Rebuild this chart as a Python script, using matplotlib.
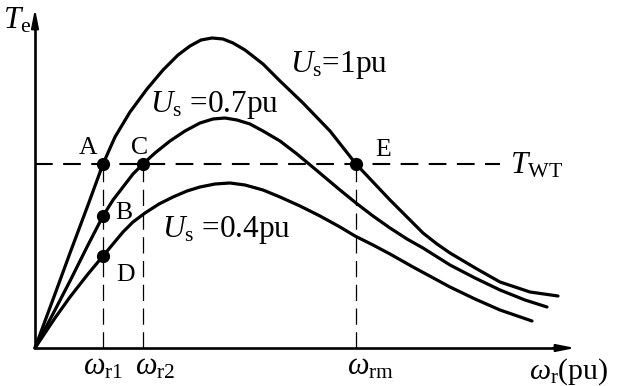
import matplotlib
matplotlib.use('Agg')
import matplotlib.pyplot as plt

plt.rcParams['font.family'] = 'Liberation Serif'
plt.rcParams['mathtext.fontset'] = 'custom'
plt.rcParams['mathtext.rm'] = 'Liberation Serif'
plt.rcParams['mathtext.it'] = 'Liberation Serif:italic'

# Kurva torsi (Te) terhadap kecepatan (wr)
w_1pu = [0, 0.20, 0.35, 0.53, 0.68, 0.80, 0.95, 1.12, 1.28, 1.43, 1.55, 1.66, 1.77, 1.88,
         1.98, 2.10, 2.28, 2.45, 2.68, 2.95, 3.21, 3.38, 3.55, 3.72, 3.88, 4.02, 4.15, 4.42,
         4.65, 4.95, 5.23]
te_1pu = [0, 0.54, 0.95, 1.43, 1.84, 2.11, 2.36, 2.59, 2.78, 2.93, 3.02, 3.08, 3.10, 3.09,
          3.05, 2.98, 2.84, 2.67, 2.45, 2.17, 1.84, 1.66, 1.48, 1.31, 1.15, 1.04, 0.95, 0.79,
          0.66, 0.56, 0.52]

w_07pu = [0, 0.20, 0.35, 0.53, 0.68, 0.78, 0.88, 0.98, 1.08, 1.20, 1.35, 1.50, 1.65, 1.78,
          1.90, 2.02, 2.15, 2.28, 2.45, 2.62, 2.80, 3.05, 3.21, 3.38, 3.55, 3.72, 3.88, 4.15,
          4.40, 4.65, 4.90, 5.12]
te_07pu = [0, 0.38, 0.67, 1.03, 1.32, 1.48, 1.61, 1.74, 1.84, 1.95, 2.07, 2.17, 2.25, 2.29,
           2.30, 2.28, 2.24, 2.17, 2.07, 1.94, 1.79, 1.58, 1.45, 1.32, 1.20, 1.09, 1.00, 0.83,
           0.70, 0.58, 0.48, 0.41]

w_04pu = [0, 0.20, 0.35, 0.53, 0.68, 0.78, 0.88, 0.98, 1.10, 1.24, 1.38, 1.52, 1.65, 1.80,
          1.95, 2.10, 2.28, 2.45, 2.65, 2.85, 3.05, 3.20, 3.38, 3.55, 3.78, 4.15, 4.40, 4.65, 4.97]
te_04pu = [0, 0.30, 0.51, 0.74, 0.92, 1.04, 1.16, 1.26, 1.35, 1.44, 1.51, 1.57, 1.61, 1.64,
           1.65, 1.63, 1.58, 1.51, 1.42, 1.32, 1.21, 1.12, 1.03, 0.94, 0.81, 0.61, 0.49, 0.38, 0.27]

# Torsi beban dan titik kerja
t_wt = 1.84
t_wt_end = 4.65
titik_label = ['A', 'B', 'C', 'D', 'E']
titik_w = [0.68, 0.68, 1.08, 0.68, 3.21]
titik_te = [1.84, 1.32, 1.84, 0.92, 1.84]
kecepatan_w = [0.68, 1.08, 3.21]
kecepatan_label = [r'$\omega_{\rm r1}$', r'$\omega_{\rm r2}$', r'$\omega_{\rm rm}$']

fig = plt.figure(figsize=(6.19, 3.86), dpi=100)
ax = fig.add_axes([0, 0, 1, 1])
ax.set_xlim(-0.35, 5.84)
ax.set_ylim(-0.38, 3.48)
ax.axis('off')

# Sumbu dengan panah
ax.plot([0, 0], [0, 3.25], color='black', lw=1.9, solid_capstyle='butt')
ax.plot([0, 5.25], [0, 0], color='black', lw=1.9, solid_capstyle='butt')
ax.annotate('', xy=(0, 3.42), xytext=(0, 3.15),
            arrowprops=dict(arrowstyle='-|>,head_length=1.1,head_width=0.22', color='black', lw=1.5))
ax.annotate('', xy=(5.43, 0), xytext=(5.15, 0),
            arrowprops=dict(arrowstyle='-|>,head_length=1.1,head_width=0.22', color='black', lw=1.5))

# Kurva
for w, te in [(w_1pu, te_1pu), (w_07pu, te_07pu), (w_04pu, te_04pu)]:
    ax.plot(w, te, color='black', lw=2.3, solid_joinstyle='round', solid_capstyle='round')

# Garis putus-putus
ax.plot([0, t_wt_end], [t_wt, t_wt], color='black', lw=1.5, linestyle=(0, (8.5, 5)))
for w in kecepatan_w:
    ax.plot([w, w], [0, t_wt], color='black', lw=0.9, linestyle=(0, (13, 6)))

ax.plot(titik_w, titik_te, 'o', color='black', markersize=8.5)

# Label titik
label_pos = {'A': (0.53, 2.00), 'B': (0.89, 1.35), 'C': (1.05, 2.00),
             'D': (0.91, 0.73), 'E': (3.48, 1.98)}
for lab in titik_label:
    ax.text(*label_pos[lab], lab, fontsize=18.5, ha='center', va='center')

ax.text(2.55, 2.83, r'$U_{\rm s}$=1pu', fontsize=22.5, ha='left', va='center')
ax.text(1.15, 2.43, r'$U_{\rm s}$ =0.7pu', fontsize=22.5, ha='left', va='center')
ax.text(1.27, 1.18, r'$U_{\rm s}$ =0.4pu', fontsize=22.5, ha='left', va='center')
ax.text(4.75, 1.82, r'$T_{\rm WT}$', fontsize=22.5, ha='left', va='center')
ax.text(-0.32, 3.27, r'$T_{\rm e}$', fontsize=22.5, ha='left', va='center')

label_x = [0.68, 1.20, 3.36]
for x, lab in zip(label_x, kecepatan_label):
    ax.text(x, -0.19, lab, fontsize=22, ha='center', va='center')
ax.text(4.94, -0.24, r'$\omega_{\rm r}$(pu)', fontsize=21.5, ha='left', va='center')

fig.savefig('out.png', dpi=100)
